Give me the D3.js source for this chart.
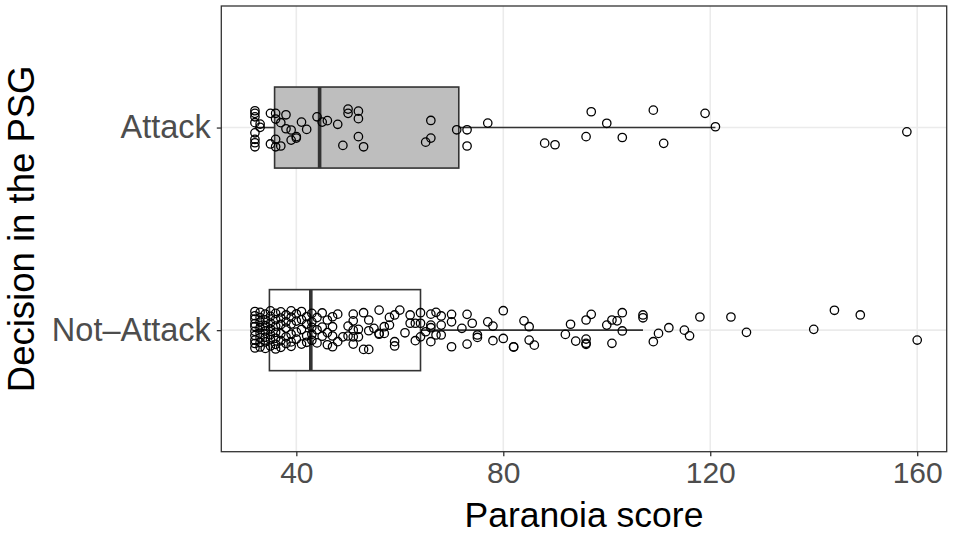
<!DOCTYPE html>
<html>
<head>
<meta charset="utf-8">
<script src="https://cdn.jsdelivr.net/npm/d3@7"></script>
<style>
  body { margin: 0; background: #fff; }
  text { font-family: "Liberation Sans", Arial, Helvetica, sans-serif; }
</style>
</head>
<body>
<svg id="chart" width="957" height="534"></svg>
<script>
// Categories, top to bottom
const categories = ['Attack', 'Not–Attack'];
const boxFills = ['#bebebe', '#ffffff'];

// Box stats per category: [lower whisker, Q1, median, Q3, upper whisker]
const attackBox = [32, 35.8, 44.5, 71.4, 121];
const notAttackBox = [32, 34.8, 42.8, 64, 107];

const xTicks = [40, 80, 120, 160];

// Jittered points: [score, vertical jitter in category units, + is up]
const attackPoints = [
  [32, 0.083], [32, 0.070], [32, 0.053], [32, 0.024], [33, 0.017], [33, 0.001],
  [32, -0.026], [32, -0.058], [32, -0.075], [32, -0.095],
  [35, 0.070], [36, 0.070], [36, 0.042], [38, 0.063], [37, 0.024], [38, -0.006],
  [39, -0.012], [41, 0.027], [42, -0.009], [40, -0.045], [39, -0.062], [40, -0.052],
  [35, -0.081], [36, -0.058], [36, -0.095], [37, -0.091],
  [44, 0.053], [45, 0.027], [46, 0.034], [48, 0.016], [50, 0.091], [50, 0.070],
  [52, 0.081], [52, 0.044], [52, -0.045], [49, -0.088], [53, -0.095],
  [66, 0.035], [66, -0.052], [65, -0.072], [71, -0.011], [73, -0.011], [73, -0.091],
  [77, 0.022], [88, -0.077], [90, -0.085], [97, 0.078], [96, -0.045],
  [100, 0.021], [103, -0.049], [109, 0.086], [111, -0.078], [119, 0.070],
  [121, 0.004], [158, -0.021]
];

const notAttackPoints = [
  [32, 0.092], [32, 0.071], [32, 0.055], [32, 0.032], [32, 0.018], [32, -0.006],
  [32, -0.027], [32, -0.049], [32, -0.066], [32, -0.088],
  [33, 0.088], [33, 0.062], [33, 0.040], [33, 0.012], [33, -0.015], [33, -0.038],
  [33, -0.061], [33, -0.083],
  [34, 0.079], [34, 0.051], [34, 0.022], [34, -0.004], [34, -0.035], [34, -0.058], [34, -0.090],
  [35, 0.095], [35, 0.068], [35, 0.035], [35, 0.006], [35, -0.022], [35, -0.047], [35, -0.078],
  [36, 0.083], [36, 0.052], [36, 0.020], [36, -0.011], [36, -0.040], [36, -0.070], [36, -0.093],
  [37, 0.090], [37, 0.060], [37, 0.028], [37, -0.018], [37, -0.052], [37, -0.085],
  [38, 0.075], [38, 0.041], [38, 0.010], [38, -0.033], [38, -0.066],
  [39, 0.095], [39, 0.064], [39, 0.030], [39, -0.020], [39, -0.058], [39, -0.080],
  [40, 0.080], [40, 0.045], [40, -0.010], [40, -0.044],
  [41, 0.092], [41, 0.052], [41, 0.003], [41, -0.069],
  [42, 0.066], [42, 0.030], [42, -0.028], [42, -0.060],
  [43, 0.083], [43, 0.041], [43, 0.014], [43, -0.020], [43, -0.050],
  [44, 0.062], [44, 0.002], [44, -0.063],
  [45, 0.085], [45, 0.015], [45, -0.030],
  [46, 0.050], [46, -0.012], [46, -0.072],
  [48, 0.079], [47, 0.066], [47, 0.017], [47, -0.029], [48, -0.057], [47, -0.082],
  [49, -0.033], [50, 0.020], [50, -0.029], [51, 0.079], [51, 0.046], [51, 0.000],
  [51, -0.033], [51, -0.069], [52, 0.004], [52, -0.033], [53, 0.086], [53, -0.095],
  [54, 0.050], [54, -0.003], [54, -0.095], [55, 0.009], [56, 0.099], [56, -0.016],
  [56, -0.020], [57, 0.017], [57, -0.016], [58, 0.063], [58, 0.025], [59, 0.075],
  [59, -0.057], [59, -0.078], [60, 0.099], [61, -0.013], [62, 0.075], [62, 0.034],
  [63, 0.034], [63, -0.052],
  [64, 0.086], [64, 0.034], [64, -0.033], [66, 0.079], [66, 0.025], [66, 0.012],
  [66, -0.057], [65, -0.008], [67, 0.088], [68, 0.070], [68, 0.025], [68, -0.024],
  [67, -0.024], [70, 0.078], [70, 0.041], [70, -0.082], [72, 0.009], [73, 0.078],
  [73, -0.069], [74, 0.034], [75, -0.024], [75, -0.036], [77, 0.041], [78, 0.020],
  [78, -0.052], [80, 0.096], [80, -0.041], [82, -0.082], [82, -0.084], [84, 0.046],
  [85, 0.017], [85, -0.049], [86, -0.074], [92, -0.021], [93, 0.029], [94, -0.054],
  [96, 0.050], [97, 0.078], [96, -0.044], [96, -0.065], [96, -0.070], [100, 0.025],
  [101, 0.050], [101, -0.065], [102, 0.046], [103, 0.086], [103, -0.004], [107, 0.075],
  [107, 0.061], [109, -0.057], [110, -0.016], [112, 0.012],
  [115, 0.000], [116, -0.028], [118, 0.065], [124, 0.065], [127, -0.011], [140, 0.004],
  [144, 0.098], [149, 0.075], [160, -0.049]
];

const boxes = [attackBox, notAttackBox];
const pointSets = [attackPoints, notAttackPoints];

// Panel geometry
const panel = { left: 221.3, right: 946.7, top: 6, bottom: 451.7 };

const svg = d3.select('#chart');

const x = d3.scaleLinear()
  .domain([25.5, 165.7])
  .range([panel.left, panel.right]);

const y = d3.scalePoint()
  .domain(categories)
  .range([panel.top, panel.bottom])
  .padding(0.6);

const step = y.step();
const boxHalf = 0.2 * step;

// Grid lines (major only)
const grid = svg.append('g');
grid.selectAll('.vgrid')
  .data(xTicks)
  .join('line')
  .attr('x1', d => x(d)).attr('x2', d => x(d))
  .attr('y1', panel.top).attr('y2', panel.bottom)
  .attr('stroke', '#ebebeb')
  .attr('stroke-width', 1.6);
grid.selectAll('.hgrid')
  .data(categories)
  .join('line')
  .attr('x1', panel.left).attr('x2', panel.right)
  .attr('y1', d => y(d)).attr('y2', d => y(d))
  .attr('stroke', '#ebebeb')
  .attr('stroke-width', 1.6);

// Boxplots
categories.forEach((cat, i) => {
  const [lo, q1, med, q3, hi] = boxes[i];
  const cy = y(cat);
  const g = svg.append('g');

  g.append('line')
    .attr('x1', x(lo)).attr('x2', x(q1))
    .attr('y1', cy).attr('y2', cy)
    .attr('stroke', '#333').attr('stroke-width', 1.6);
  g.append('line')
    .attr('x1', x(q3)).attr('x2', x(hi))
    .attr('y1', cy).attr('y2', cy)
    .attr('stroke', '#333').attr('stroke-width', 1.6);

  g.append('rect')
    .attr('x', x(q1))
    .attr('y', cy - boxHalf)
    .attr('width', x(q3) - x(q1))
    .attr('height', 2 * boxHalf)
    .attr('fill', boxFills[i])
    .attr('stroke', '#333')
    .attr('stroke-width', 1.6);

  g.append('line')
    .attr('x1', x(med)).attr('x2', x(med))
    .attr('y1', cy - boxHalf).attr('y2', cy + boxHalf)
    .attr('stroke', '#333').attr('stroke-width', 3.6);
});

// Jittered points
categories.forEach((cat, i) => {
  svg.append('g')
    .selectAll('circle')
    .data(pointSets[i])
    .join('circle')
    .attr('cx', d => x(d[0]))
    .attr('cy', d => y(cat) - d[1] * step)
    .attr('r', 4.2)
    .attr('fill', 'none')
    .attr('stroke', '#000')
    .attr('stroke-width', 1.3);
});

// Panel border
svg.append('rect')
  .attr('x', panel.left).attr('y', panel.top)
  .attr('width', panel.right - panel.left)
  .attr('height', panel.bottom - panel.top)
  .attr('fill', 'none')
  .attr('stroke', '#333')
  .attr('stroke-width', 1.3);

// X axis
const xAxis = svg.append('g')
  .attr('transform', `translate(0,${panel.bottom})`)
  .call(d3.axisBottom(x).tickValues(xTicks).tickSize(4.5).tickSizeOuter(0).tickPadding(6));
xAxis.select('.domain').remove();
xAxis.selectAll('.tick line').attr('stroke', '#333').attr('stroke-width', 1.3);
xAxis.selectAll('.tick text')
  .attr('fill', '#4d4d4d')
  .style('font-size', '30px');

// Y axis
const yAxis = svg.append('g')
  .attr('transform', `translate(${panel.left},0)`)
  .call(d3.axisLeft(y).tickSize(4.5).tickSizeOuter(0).tickPadding(6));
yAxis.select('.domain').remove();
yAxis.selectAll('.tick line').attr('stroke', '#333').attr('stroke-width', 1.3);
yAxis.selectAll('.tick text')
  .attr('fill', '#4d4d4d')
  .style('font-size', '32.5px');

// Axis titles
svg.append('text')
  .attr('x', (panel.left + panel.right) / 2)
  .attr('y', 527)
  .attr('text-anchor', 'middle')
  .attr('fill', '#000')
  .style('font-size', '35.5px')
  .text('Paranoia score');

svg.append('text')
  .attr('transform', `translate(34,${(panel.top + panel.bottom) / 2}) rotate(-90)`)
  .attr('text-anchor', 'middle')
  .attr('fill', '#000')
  .style('font-size', '36.5px')
  .text('Decision in the PSG');
</script>
</body>
</html>
